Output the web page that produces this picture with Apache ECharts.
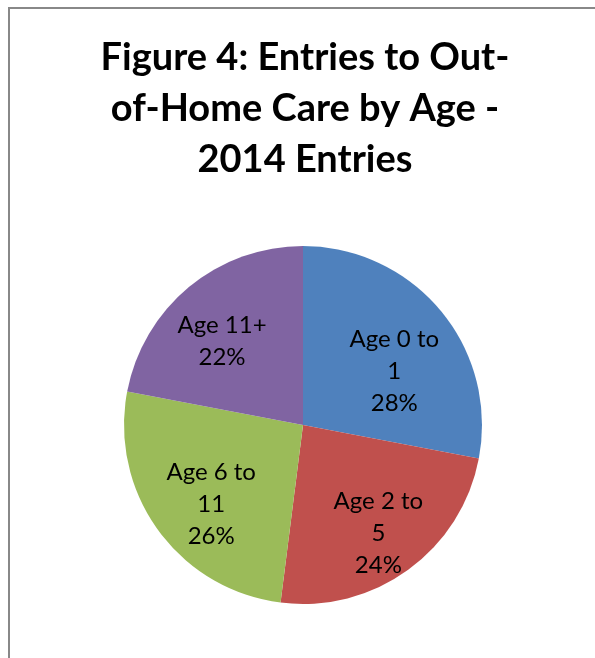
<!DOCTYPE html>
<html>
<head>
<meta charset="utf-8">
<title>Entries to Out-of-Home Care by Age</title>
<script src="https://cdn.jsdelivr.net/npm/echarts@6/dist/echarts.min.js"></script>
<style>
  html, body { margin: 0; padding: 0; background: #ffffff; }
  #chart { width: 595px; height: 658px; }
</style>
</head>
<body>
<div id="chart"></div>
<script>
// Age groups and their share of 2014 entries (percent)
const categories = ['Age 0 to\n1', 'Age 2 to\n5', 'Age 6 to\n11', 'Age 11+'];
const shares = [28, 24, 26, 22];
const sliceColors = ['#4F81BD', '#C0504D', '#9BBB59', '#8064A2'];
// nudges applied to the inside labels, in pixels
const labelNudges = [[20, 5], [21, 33], [-17, 25], [-22, -12]];

const chart = echarts.init(document.getElementById('chart'), null, { renderer: 'canvas' });

const pieData = categories.map((name, i) => ({
  name: name,
  value: shares[i],
  itemStyle: { color: sliceColors[i] },
  label: { offset: labelNudges[i] }
}));

chart.setOption({
  animation: false,
  backgroundColor: '#ffffff',
  title: {
    text: 'Figure 4: Entries to Out-\nof-Home Care by Age -\n2014 Entries',
    left: 300,
    top: 27,
    textAlign: 'center',
    textStyle: {
      fontFamily: 'Lato',
      fontWeight: 'bold',
      fontSize: 38,
      lineHeight: 51,
      color: '#000000'
    }
  },
  graphic: [{
    type: 'rect',
    shape: { x: 9, y: 8, width: 700, height: 700 },
    style: { fill: 'none', stroke: '#888888', lineWidth: 2 },
    silent: true
  }],
  series: [{
    type: 'pie',
    center: [303, 425],
    radius: 179,
    startAngle: 90,
    clockwise: true,
    data: pieData,
    itemStyle: { borderWidth: 0 },
    label: {
      show: true,
      position: 'inside',
      formatter: p => p.name + '\n' + p.value + '%',
      fontFamily: 'Lato',
      fontSize: 24,
      lineHeight: 32,
      color: '#000000',
      align: 'center'
    },
    labelLine: { show: false },
    emphasis: { disabled: true }
  }]
});
</script>
</body>
</html>
